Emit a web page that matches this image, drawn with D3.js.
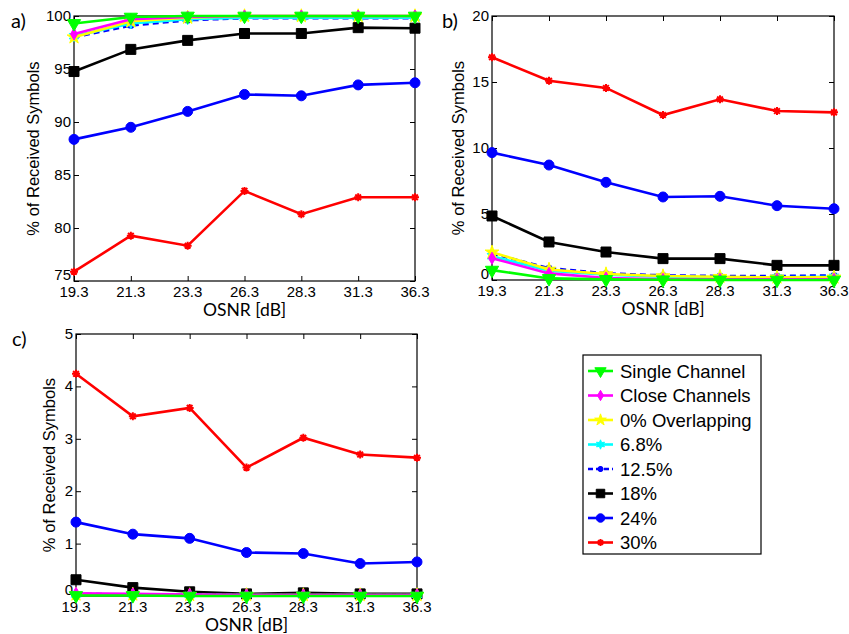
<!DOCTYPE html>
<html>
<head>
<meta charset="utf-8">
<script src="https://cdn.jsdelivr.net/npm/d3@7"></script>
<style>
  body { margin: 0; background: #fff; }
  svg { display: block; }
  .tick-label { font-family: "Liberation Sans", Arial, sans-serif; font-size: 15px; fill: #000; }
  .ylabel { font-family: "Liberation Sans", Arial, sans-serif; font-size: 16.5px; fill: #000; }
  .xlabel { font-family: Lato, "Open Sans", sans-serif; font-size: 17.5px; fill: #000; }
  .panel-label { font-family: Lato, "Open Sans", sans-serif; font-size: 20px; fill: #000; }
  .legend-text { font-family: "Liberation Sans", Arial, sans-serif; font-size: 18.5px; fill: #000; }
</style>
</head>
<body>
<svg id="chart" width="849" height="634"></svg>
<script>
// OSNR steps on the x axis (evenly spaced, like a category axis)
const osnr = ["19.3", "21.3", "23.3", "26.3", "28.3", "31.3", "36.3"];
const seriesNames = ["Single Channel", "Close Channels", "0% Overlapping", "6.8%", "12.5%", "18%", "24%", "30%"];

// a) % of received symbols
const single_a  = [99.3, 99.9, 100, 100, 100, 100, 100];
const close_a   = [98.3, 99.7, 99.9, 100, 100, 100, 100];
const over0_a   = [98.0, 99.5, 99.85, 100, 100, 100, 100];
const ov68_a    = [98.1, 99.3, 99.7, 99.85, 99.85, 99.85, 99.85];
const ov125_a   = [98.0, 99.1, 99.6, 99.8, 99.8, 99.8, 99.8];
const ov18_a    = [94.76, 96.85, 97.7, 98.35, 98.35, 98.9, 98.85];
const ov24_a    = [88.36, 89.5, 91.0, 92.6, 92.47, 93.5, 93.7];
const ov30_a    = [75.88, 79.27, 78.33, 83.5, 81.3, 82.9, 82.9];

// b)
const single_b  = [0.75, 0.12, 0.05, 0.02, 0.01, 0.0, 0.0];
const close_b   = [1.65, 0.5, 0.15, 0.05, 0.05, 0.05, 0.05];
const over0_b   = [2.1, 0.8, 0.45, 0.3, 0.25, 0.2, 0.2];
const ov68_b    = [1.8, 0.7, 0.4, 0.25, 0.2, 0.2, 0.25];
const ov125_b   = [2.0, 0.9, 0.5, 0.35, 0.3, 0.3, 0.35];
const ov18_b    = [4.85, 2.88, 2.12, 1.62, 1.62, 1.11, 1.11];
const ov24_b    = [9.65, 8.71, 7.4, 6.29, 6.34, 5.63, 5.4];
const ov30_b    = [16.87, 15.1, 14.55, 12.5, 13.69, 12.8, 12.7];

// c)
const single_c  = [0.01, 0.01, 0.0, 0.0, 0.0, 0.0, 0.0];
const close_c   = [0.05, 0.04, 0.03, 0.02, 0.02, 0.02, 0.02];
const over0_c   = [0.03, 0.03, 0.02, 0.02, 0.02, 0.02, 0.02];
const ov68_c    = [0.03, 0.03, 0.02, 0.02, 0.02, 0.02, 0.02];
const ov125_c   = [0.04, 0.03, 0.03, 0.02, 0.02, 0.02, 0.02];
const ov18_c    = [0.31, 0.16, 0.08, 0.04, 0.06, 0.04, 0.04];
const ov24_c    = [1.41, 1.18, 1.1, 0.83, 0.81, 0.62, 0.65];
const ov30_c    = [4.24, 3.43, 3.59, 2.45, 3.02, 2.7, 2.64];

const ticks_a = [75, 80, 85, 90, 95, 100];
const ticks_b = [0, 5, 10, 15, 20];
const ticks_c = [0, 1, 2, 3, 4, 5];

// look of each series, same order as seriesNames
const styles = [
  {color: "#00ff00", marker: "tri", size: 13, dash: null},
  {color: "#ff00ff", marker: "diamond", size: 11, dash: null},
  {color: "#ffff00", marker: "star", size: 14, dash: null},
  {color: "#00ffff", marker: "hex", size: 11, dash: null},
  {color: "#0000ff", marker: "ast", size: 7, dash: "6,4"},
  {color: "#000000", marker: "square", size: 10, dash: null},
  {color: "#0000ff", marker: "circle", size: 10, dash: null},
  {color: "#ff0000", marker: "ast", size: 8, dash: null}
];

const svg = d3.select("#chart");

function markerPath(kind, s) {
  if (kind === "tri") return d3.symbol(d3.symbolTriangle, s * s * 0.45)();
  if (kind === "diamond") return d3.symbol(d3.symbolDiamond, s * s * 0.35)();
  if (kind === "star") return d3.symbol(d3.symbolStar, s * s * 0.3)();
  if (kind === "square") return d3.symbol(d3.symbolSquare, s * s)();
  if (kind === "circle") return d3.symbol(d3.symbolCircle, s * s * 0.785)();
  if (kind === "hex") {
    // six pointed star
    const pts = [];
    for (let i = 0; i < 12; i++) {
      const r = i % 2 === 0 ? s / 2 : s / 4.2;
      const a = Math.PI / 6 * i - Math.PI / 2;
      pts.push([r * Math.cos(a), r * Math.sin(a)]);
    }
    return "M" + pts.join("L") + "Z";
  }
  // asterisk
  let p = "";
  for (let i = 0; i < 4; i++) {
    const a = Math.PI / 4 * i;
    const dx = Math.cos(a) * s / 2, dy = Math.sin(a) * s / 2;
    p += "M" + (-dx) + "," + (-dy) + "L" + dx + "," + dy;
  }
  return p;
}

function drawMarker(g, st, x, y) {
  const m = g.append("path")
      .attr("d", markerPath(st.marker, st.size))
      .attr("transform", "translate(" + x + "," + y + ")" + (st.marker === "tri" ? " rotate(180)" : ""));
  if (st.marker === "ast") {
    m.attr("fill", "none").attr("stroke", st.color).attr("stroke-width", 2);
  } else {
    m.attr("fill", st.color).attr("stroke", st.color).attr("stroke-width", 1);
  }
}

function drawPanel(p) {
  const x = d3.scalePoint().domain(osnr).range([p.left, p.right]);
  const y = d3.scaleLinear().domain(p.domain).range([p.bottom, p.top]);
  const g = svg.append("g");

  // box
  g.append("rect")
      .attr("x", p.left).attr("y", p.top)
      .attr("width", p.right - p.left).attr("height", p.bottom - p.top)
      .attr("fill", "none").attr("stroke", "#000").attr("stroke-width", 1.2);

  // inward ticks on all four sides
  const tl = 5;
  g.append("g").attr("transform", "translate(" + p.left + ",0)")
      .call(d3.axisLeft(y).tickValues(p.ticks).tickSize(-tl).tickFormat(""))
      .call(a => a.select(".domain").remove());
  g.append("g").attr("transform", "translate(" + p.right + ",0)")
      .call(d3.axisRight(y).tickValues(p.ticks).tickSize(-tl).tickFormat(""))
      .call(a => a.select(".domain").remove());
  g.append("g").attr("transform", "translate(0," + p.bottom + ")")
      .call(d3.axisBottom(x).tickSize(-tl).tickFormat(""))
      .call(a => a.select(".domain").remove());
  g.append("g").attr("transform", "translate(0," + p.top + ")")
      .call(d3.axisTop(x).tickSize(-tl).tickFormat(""))
      .call(a => a.select(".domain").remove());

  // tick labels (the lowest y label sits a bit higher, clear of the x labels)
  g.selectAll(".ytl").data(p.ticks).enter().append("text")
      .attr("class", "tick-label")
      .attr("x", p.left - 3)
      .attr("y", (d, i) => y(d) + (i === 0 ? -1 : 5))
      .attr("text-anchor", "end")
      .text(d => d);
  g.selectAll(".xtl").data(osnr).enter().append("text")
      .attr("class", "tick-label")
      .attr("x", d => x(d))
      .attr("y", p.bottom + p.xtickDy)
      .attr("text-anchor", "middle")
      .text(d => d);

  g.append("text").attr("class", "xlabel")
      .attr("x", (p.left + p.right) / 2)
      .attr("y", p.bottom + p.xlabelDy)
      .attr("text-anchor", "middle")
      .text("OSNR [dB]");
  g.append("text").attr("class", "ylabel")
      .attr("transform", "translate(" + p.ylabelX + "," + ((p.top + p.bottom) / 2) + ") rotate(-90)")
      .attr("text-anchor", "middle")
      .text("% of Received Symbols");
  g.append("text").attr("class", "panel-label")
      .attr("x", p.labelX).attr("y", p.top + 12)
      .text(p.label);

  const line = d3.line()
      .x((d, i) => x(osnr[i]))
      .y(d => y(d));

  // last series first so Single Channel ends up on top
  for (let k = p.series.length - 1; k >= 0; k--) {
    const st = styles[k];
    const vals = p.series[k];
    g.append("path")
        .attr("d", line(vals))
        .attr("fill", "none")
        .attr("stroke", st.color)
        .attr("stroke-width", 2.6)
        .attr("stroke-dasharray", st.dash);
    vals.forEach((v, i) => drawMarker(g, st, x(osnr[i]), y(v)));
  }
}

drawPanel({
  label: "a)", labelX: 11, left: 74, right: 415, top: 16, bottom: 281, ylabelX: 39,
  xtickDy: 16, xlabelDy: 35,
  domain: [75, 100], ticks: ticks_a,
  series: [single_a, close_a, over0_a, ov68_a, ov125_a, ov18_a, ov24_a, ov30_a]
});
drawPanel({
  label: "b)", labelX: 442, left: 492, right: 834, top: 16, bottom: 280, ylabelX: 464,
  xtickDy: 16, xlabelDy: 35,
  domain: [0, 20], ticks: ticks_b,
  series: [single_b, close_b, over0_b, ov68_b, ov125_b, ov18_b, ov24_b, ov30_b]
});
drawPanel({
  label: "c)", labelX: 12, left: 76, right: 417, top: 334, bottom: 596, ylabelX: 55,
  xtickDy: 15.5, xlabelDy: 34.5,
  domain: [0, 5], ticks: ticks_c,
  series: [single_c, close_c, over0_c, ov68_c, ov125_c, ov18_c, ov24_c, ov30_c]
});

// legend
const legend = svg.append("g");
legend.append("rect")
    .attr("x", 583).attr("y", 355).attr("width", 178).attr("height", 199)
    .attr("fill", "#fff").attr("stroke", "#000").attr("stroke-width", 1.2);
seriesNames.forEach(function(name, i) {
  const st = styles[i];
  const ly = 371 + i * 24.5;
  legend.append("line")
      .attr("x1", 588).attr("x2", 613).attr("y1", ly).attr("y2", ly)
      .attr("stroke", st.color).attr("stroke-width", 2.6)
      .attr("stroke-dasharray", st.dash ? "5,3" : null);
  drawMarker(legend, Object.assign({}, st, {size: st.size * 0.85}), 600.5, ly);
  legend.append("text").attr("class", "legend-text")
      .attr("x", 620).attr("y", ly + 6.5)
      .text(name);
});
</script>
</body>
</html>
